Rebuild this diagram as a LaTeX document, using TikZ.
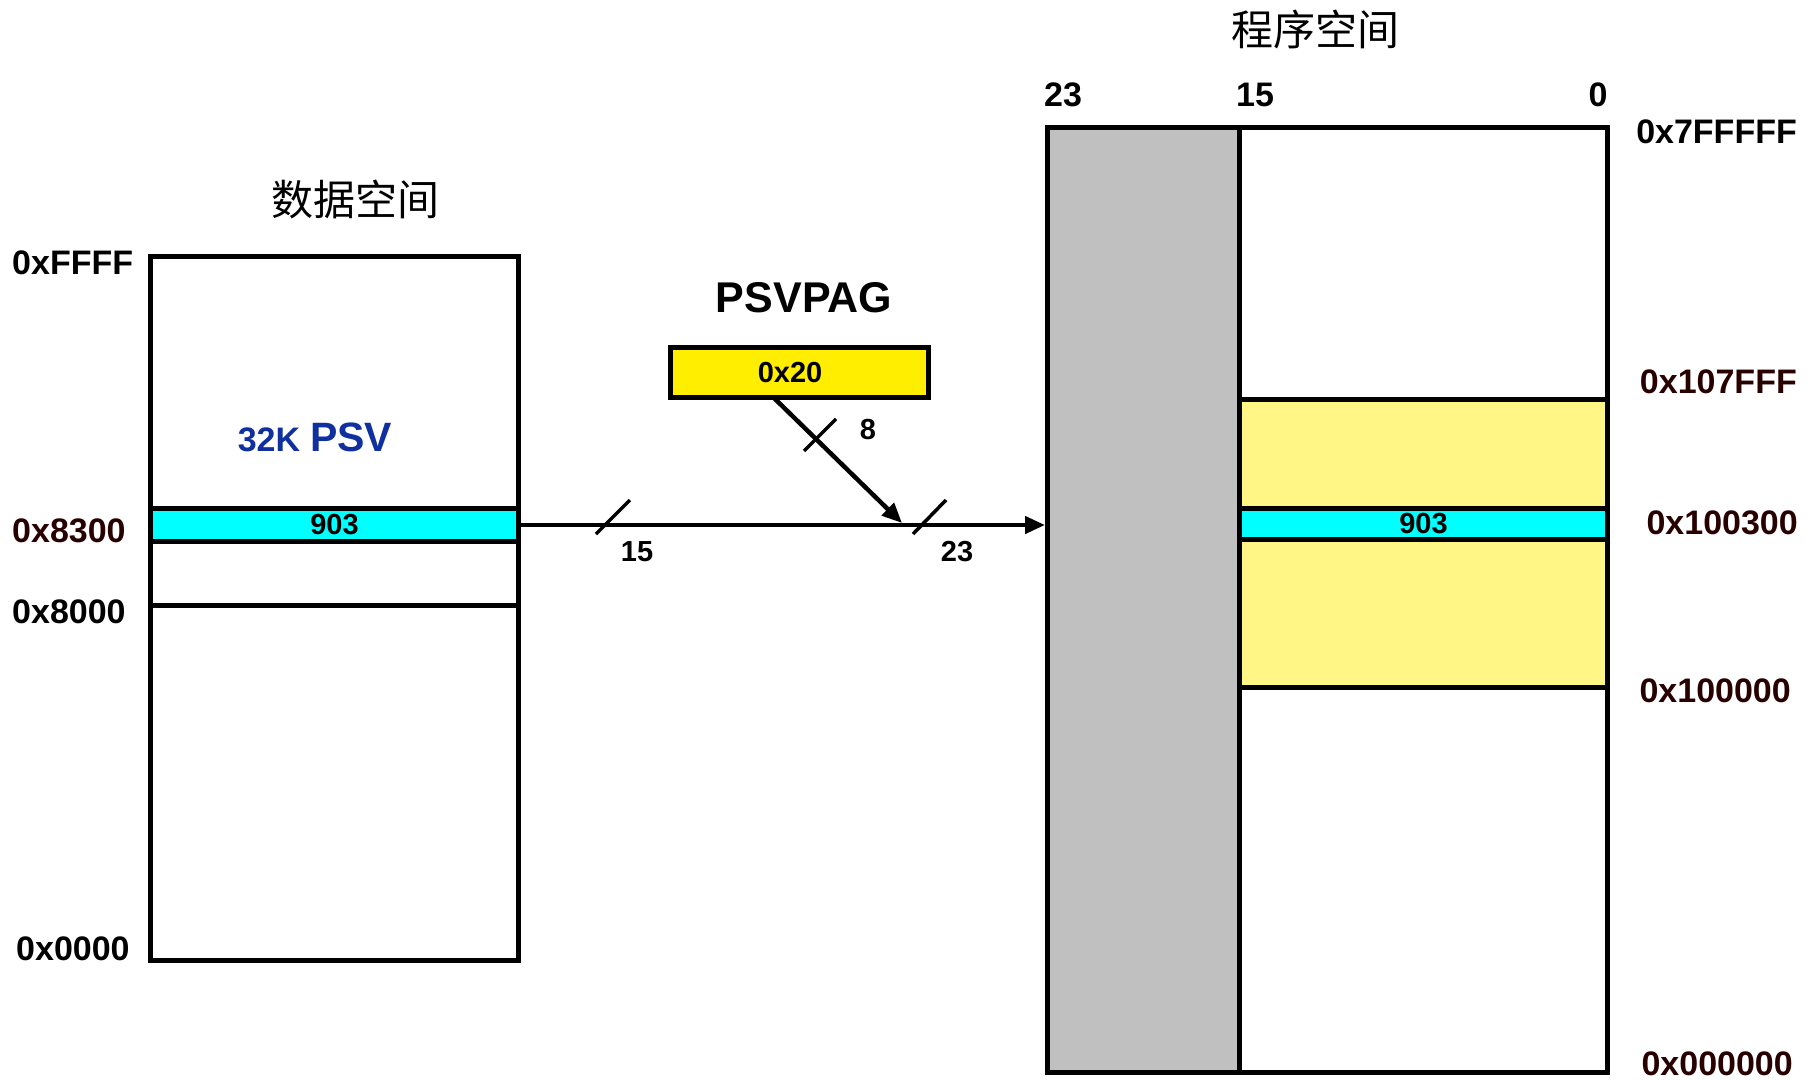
\documentclass[tikz,border=0pt]{standalone}
\usepackage{fontspec}
\setmainfont{Liberation Sans}
\newfontfamily\cjk{Noto Sans CJK SC}
\usetikzlibrary{arrows.meta}
\definecolor{psvblue}{RGB}{16,48,160}
\definecolor{addrred}{RGB}{40,0,0}
\definecolor{cyanband}{RGB}{0,255,255}
\definecolor{regyellow}{RGB}{255,238,0}
\definecolor{lightyellow}{RGB}{255,246,133}
\definecolor{greycol}{RGB}{192,192,192}
\newcommand{\fs}[1]{\fontsize{#1}{#1}\selectfont}
\tikzset{
  membox/.style={draw=black, line width=5pt, inner sep=0pt, anchor=north west},
  band/.style={draw=black, line width=5pt, fill=cyanband, inner sep=0pt, anchor=north west, font=\fs{29}\bfseries},
  addr/.style={inner sep=0pt, font=\fs{34}\bfseries},
  bitlbl/.style={inner sep=0pt, font=\fs{29}\bfseries},
  title/.style={inner sep=0pt, font=\cjk\fs{42}},
  bus/.style={line width=4.5pt, -{Triangle[length=20pt,width=17pt]}},
  slash/.style={line width=3.5pt}
}
\begin{document}
\begin{tikzpicture}[x=1pt,y=-1pt]
\useasboundingbox (0,0) rectangle (1814,1080);
\fill[white] (0,0) rectangle (1814,1080);

% ---------- data space ----------
\node[title] (dtitle) at (355,199) {数据空间};
\node[membox, minimum width=368pt, minimum height=704pt] (ldata) at (148,254) {};
\node[band, minimum width=368pt, minimum height=33pt] (lband) at (148,506) {903};
\draw[line width=5pt] (148,605) -- (516,605);
\node[inner sep=0pt, text=psvblue, font=\bfseries] (psv) at (315,437) {\fs{34}32K\hspace{10pt}\fs{41}PSV};
\node[addr, anchor=west] (aFFFF) at (12,263) {0xFFFF};
\node[addr, anchor=west, text=addrred] (a8300) at (12,531) {0x8300};
\node[addr, anchor=west] (a8000) at (12,612) {0x8000};
\node[addr, anchor=west] (a0000) at (16,949) {0x0000};

% ---------- PSVPAG ----------
\node[inner sep=0pt, font=\fs{43}\bfseries] (ptitle) at (804,298) {PSVPAG};
\node[draw=black, line width=5pt, fill=regyellow, inner sep=0pt, anchor=north west,
      minimum width=258pt, minimum height=50pt] (ppag) at (668,345) {};
\node[inner sep=0pt, font=\fs{29}\bfseries] (pval) at (790,373) {0x20};

% ---------- program space ----------
\node[title] (ptitle2) at (1315,29) {程序空间};
\node[membox, fill=greycol, minimum width=192pt, minimum height=945pt] (rgrey) at (1045,125) {};
\node[membox, minimum width=368pt, minimum height=945pt] (rwhite) at (1237,125) {};
\node[membox, fill=lightyellow, minimum width=368pt, minimum height=288pt] (ryel) at (1237,397) {};
\node[band, minimum width=368pt, minimum height=31pt] (rband) at (1237,506) {903};
\node[bitlbl, font=\fs{34}\bfseries] (b23) at (1063,95) {23};
\node[bitlbl, font=\fs{34}\bfseries] (b15) at (1255,95) {15};
\node[bitlbl, font=\fs{34}\bfseries] (b0) at (1598,95) {0};
\node[addr, anchor=east] (a7FFFFF) at (1797,132) {0x7FFFFF};
\node[addr, anchor=east, text=addrred] (a107FFF) at (1797,382) {0x107FFF};
\node[addr, anchor=east, text=addrred] (a100300) at (1798,523) {0x100300};
\node[addr, anchor=east, text=addrred] (a100000) at (1791,691) {0x100000};
\node[addr, anchor=east, text=addrred] (a000000) at (1793,1064) {0x000000};

% ---------- connectors ----------
\coordinate (dstart) at (773,397);
\coordinate (join) at (902,523);
\draw[bus] (lband.east) -- (lband.east -| rgrey.west);
\draw[bus] (dstart) -- (join);
\draw[slash] (596,534) -- (630,500);
\draw[slash] (913,534) -- (946,500);
\draw[slash] (804,451) -- (836,419);
\node[bitlbl] (l15) at (637,552) {15};
\node[bitlbl] (l23) at (957,552) {23};
\node[bitlbl] (l8) at (868,430) {8};
\end{tikzpicture}
\end{document}
